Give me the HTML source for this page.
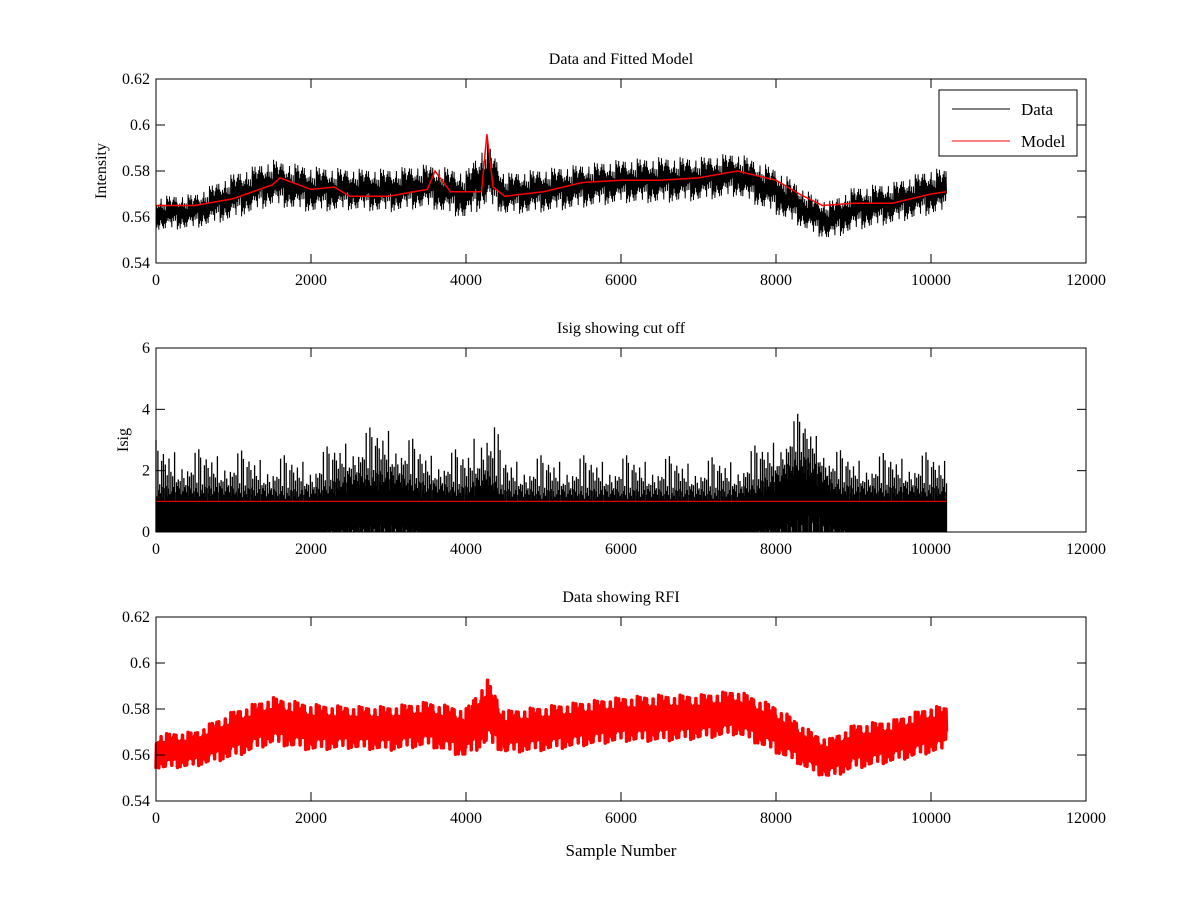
<!DOCTYPE html>
<html><head><meta charset="utf-8"><style>
body{margin:0;background:#fff;}
svg{display:block;font-family:"Liberation Serif",serif;}
</style></head><body>
<svg id="fig" width="1200" height="900"></svg>
<script>
// ---- data ----
const xTicks=[0,2000,4000,6000,8000,10000,12000];
const yTicks1=["0.54","0.56","0.58","0.6","0.62"];
const yTicks2=["0","2","4","6"];
const envX=[0,500,1000,1500,2000,2500,3000,3500,4000,4270,4500,5000,5500,6000,6500,7000,7500,8000,8300,8500,8700,9000,9500,10000,10200];
const dataLo=[0.554,0.555,0.559,0.565,0.562,0.563,0.562,0.564,0.559,0.565,0.561,0.562,0.564,0.566,0.566,0.567,0.569,0.561,0.556,0.552,0.550,0.554,0.557,0.561,0.562];
const dataHi=[0.569,0.570,0.579,0.585,0.582,0.581,0.581,0.583,0.580,0.593,0.579,0.581,0.583,0.585,0.586,0.586,0.588,0.581,0.574,0.569,0.567,0.573,0.575,0.581,0.581];
const modelX=[0,500,1000,1500,1600,2000,2300,2500,3000,3500,3600,3800,4000,4200,4270,4350,4500,5000,5500,6000,6500,7000,7500,8000,8300,8600,9000,9500,10000,10200];
const modelY=[0.565,0.565,0.568,0.574,0.577,0.572,0.573,0.569,0.569,0.572,0.580,0.571,0.571,0.571,0.596,0.573,0.569,0.571,0.575,0.576,0.576,0.577,0.580,0.576,0.570,0.565,0.566,0.566,0.570,0.571];
const isigHi=[3.0,2.7,2.7,2.5,2.5,3.2,3.6,2.7,2.7,4.4,2.5,2.5,2.5,2.5,2.5,2.4,2.5,3.2,3.9,3.4,2.8,2.5,2.6,2.6,2.5];
const isigBand=[1.5,1.5,1.5,1.4,1.4,1.9,2.0,1.6,1.5,2.0,1.4,1.4,1.4,1.4,1.4,1.4,1.4,1.9,2.6,2.3,1.7,1.5,1.5,1.5,1.5];
const isigLo=[0,0,0,0,0,0.2,0.4,0,0,0,0,0,0,0,0,0,0,0.2,0.7,1.0,0.3,0,0,0,0];
const isigCut=1.0;
const texture=[1,0.45,0.8,0.3,0.65,0.5,0.95,0.35,0.7,0.55,0.4,0.85,0.6,0.3,0.75,0.5,0.9,0.2,0.62,0.48,0.88,0.15,0.58];
// ---- drawing ----
const svg=document.getElementById('fig');const NS='http://www.w3.org/2000/svg';
function el(t,a,p){const e=document.createElementNS(NS,t);for(const k in a)e.setAttribute(k,a[k]);(p||svg).appendChild(e);return e;}
const L=156,R=1086;
const sx=v=>L+v/12000*(R-L);
function interp(xs,ys,x){for(let i=1;i<xs.length;i++){if(x<=xs[i]){const t=(x-xs[i-1])/(xs[i]-xs[i-1]);return ys[i-1]+t*(ys[i]-ys[i-1]);}}return ys[ys.length-1];}
function axes(top,bot,ymin,ymax,yt,title,ylab,name){
  const g=el('g',{});
  const sy=v=>bot-(v-ymin)/(ymax-ymin)*(bot-top);
  return {g,sy,top,bot,ymin,ymax,yt,title,ylab};
}
function frame(a){
  const {g,sy,top,bot,yt}=a;
  el('rect',{x:L,y:top,width:R-L,height:bot-top,fill:'none',stroke:'#000','stroke-width':1},g);
  xTicks.forEach(v=>{const x=sx(v);
    el('line',{x1:x,y1:bot,x2:x,y2:bot-9,stroke:'#000'},g);el('line',{x1:x,y1:top,x2:x,y2:top+9,stroke:'#000'},g);
    const t=el('text',{x:x,y:bot+22,'text-anchor':'middle','font-size':16},g);t.textContent=v;});
  yt.forEach(s=>{const y=sy(parseFloat(s));
    el('line',{x1:L,y1:y,x2:L+9,y2:y,stroke:'#000'},g);el('line',{x1:R,y1:y,x2:R-9,y2:y,stroke:'#000'},g);
    const t=el('text',{x:L-6,y:y+5,'text-anchor':'end','font-size':16},g);t.textContent=s;});
  const t=el('text',{x:621,y:top-15,'text-anchor':'middle','font-size':16},g);t.textContent=a.title;
  if(a.ylab){const yl=el('text',{x:0,y:0,'text-anchor':'middle','font-size':16,transform:`translate(${a.ylx},${(top+bot)/2}) rotate(-90)`},g);yl.textContent=a.ylab;}
}
function noisePath(a,step){let d='';let k=0;for(let s=0;s<=10200;s+=step){const lo=interp(envX,dataLo,s),hi=interp(envX,dataHi,s),m=(lo+hi)/2;const f=texture[k%texture.length];const v=(k%2)?m+(hi-m)*f:m-(m-lo)*f;d+=(k?'L':'M')+sx(s).toFixed(1)+','+a.sy(v).toFixed(1);k++;}return d;}
// Panel 1
const a1=axes(79,263,0.54,0.62,yTicks1,'Data and Fitted Model','Intensity','top-panel');a1.ylx=106;
{const p=el('path',{d:noisePath(a1,6),fill:'none',stroke:'#000','stroke-width':1},a1.g);}
{const d=modelX.map((x,i)=>(i?'L':'M')+sx(x).toFixed(1)+','+a1.sy(modelY[i]).toFixed(1)).join('');
 const p=el('path',{d,fill:'none',stroke:'#f00','stroke-width':1.5},a1.g);}
frame(a1);
{const lg=el('g',{},a1.g);
 el('rect',{x:939,y:90,width:138,height:66,fill:'#fff',stroke:'#000'},lg);
 el('line',{x1:952,y1:109,x2:1010,y2:109,stroke:'#000'},lg);
 el('line',{x1:952,y1:141,x2:1010,y2:141,stroke:'#f00'},lg);
 let t=el('text',{x:1021,y:115,'font-size':17},lg);t.textContent='Data';
 t=el('text',{x:1021,y:147,'font-size':17},lg);t.textContent='Model';}
// Panel 2
const a2=axes(348,532,0,6,yTicks2,'Isig showing cut off','Isig','middle-panel');a2.ylx=128;
{let d='';let k=0;const n=texture.length;for(let s=0;s<=10200;s+=6){const hi=interp(envX,isigHi,s),band=interp(envX,isigBand,s),lo=interp(envX,isigLo,s);const f=texture[(k*5)%n];const g2=texture[(k*2+1)%n];
  const top=(k%4===0)?band+(hi-band)*f*f:band*(0.55+0.45*f);
  const bot=(g2<0.5)?lo*2*g2:0;
  d+='M'+sx(s).toFixed(1)+','+a2.sy(bot).toFixed(1)+'V'+a2.sy(Math.max(0.2,top)).toFixed(1);k++;}
 const p=el('path',{d,fill:'none',stroke:'#000','stroke-width':1.3},a2.g);}
{const l=el('line',{x1:sx(0),y1:a2.sy(isigCut),x2:sx(10200),y2:a2.sy(isigCut),stroke:'#f00','stroke-width':1.2},a2.g);}
frame(a2);
// Panel 3
const a3=axes(617,801,0.54,0.62,yTicks1,'Data showing RFI','','bottom-panel');
{const p=el('path',{d:noisePath(a3,6),fill:'none',stroke:'#f00','stroke-width':3.5,'stroke-linejoin':'round'},a3.g);}
frame(a3);
{const t=el('text',{x:621,y:856,'text-anchor':'middle','font-size':17});t.textContent='Sample Number';}
</script>
</body></html>
